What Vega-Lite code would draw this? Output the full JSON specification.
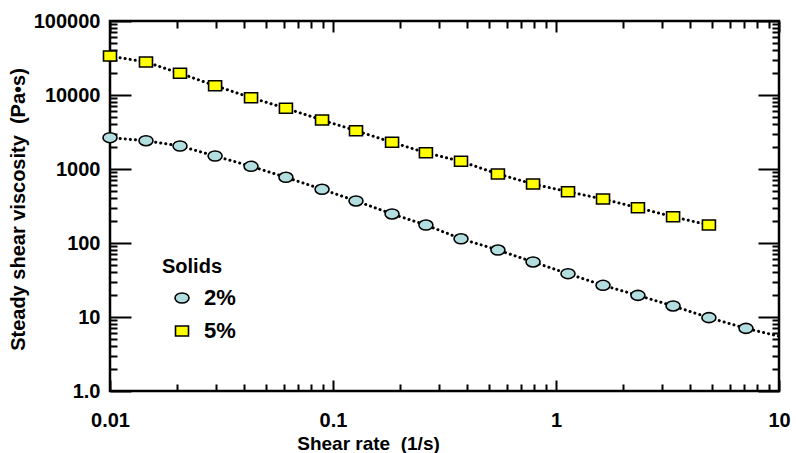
{
  "$schema": "https://vega.github.io/schema/vega-lite/v6.json",
  "width": 669,
  "height": 370,
  "autosize": {"type": "none"},
  "padding": {"left": 110, "top": 21, "right": 17, "bottom": 62},
  "background": "white",
  "datasets": {
    "visc": [
      {"rate": 0.01, "visc": 2650, "solids": "2%", "marker": true},
      {"rate": 0.0145, "visc": 2410, "solids": "2%", "marker": true},
      {"rate": 0.0206, "visc": 2046, "solids": "2%", "marker": true},
      {"rate": 0.0296, "visc": 1499, "solids": "2%", "marker": true},
      {"rate": 0.0429, "visc": 1087, "solids": "2%", "marker": true},
      {"rate": 0.0615, "visc": 773, "solids": "2%", "marker": true},
      {"rate": 0.0893, "visc": 532, "solids": "2%", "marker": true},
      {"rate": 0.1268, "visc": 370, "solids": "2%", "marker": true},
      {"rate": 0.184, "visc": 247, "solids": "2%", "marker": true},
      {"rate": 0.261, "visc": 175, "solids": "2%", "marker": true},
      {"rate": 0.375, "visc": 114, "solids": "2%", "marker": true},
      {"rate": 0.549, "visc": 80.4, "solids": "2%", "marker": true},
      {"rate": 0.789, "visc": 55.4, "solids": "2%", "marker": true},
      {"rate": 1.132, "visc": 38.5, "solids": "2%", "marker": true},
      {"rate": 1.625, "visc": 26.8, "solids": "2%", "marker": true},
      {"rate": 2.33, "visc": 19.6, "solids": "2%", "marker": true},
      {"rate": 3.35, "visc": 14.1, "solids": "2%", "marker": true},
      {"rate": 4.85, "visc": 9.8, "solids": "2%", "marker": true},
      {"rate": 7.11, "visc": 7.03, "solids": "2%", "marker": true},
      {"rate": 10, "visc": 5.5, "solids": "2%", "marker": false},
      {"rate": 0.01, "visc": 33650, "solids": "5%", "marker": true},
      {"rate": 0.0145, "visc": 27900, "solids": "5%", "marker": true},
      {"rate": 0.0206, "visc": 19640, "solids": "5%", "marker": true},
      {"rate": 0.0296, "visc": 13360, "solids": "5%", "marker": true},
      {"rate": 0.0429, "visc": 9200, "solids": "5%", "marker": true},
      {"rate": 0.0615, "visc": 6610, "solids": "5%", "marker": true},
      {"rate": 0.0893, "visc": 4590, "solids": "5%", "marker": true},
      {"rate": 0.1268, "visc": 3295, "solids": "5%", "marker": true},
      {"rate": 0.184, "visc": 2295, "solids": "5%", "marker": true},
      {"rate": 0.261, "visc": 1660, "solids": "5%", "marker": true},
      {"rate": 0.375, "visc": 1270, "solids": "5%", "marker": true},
      {"rate": 0.549, "visc": 855, "solids": "5%", "marker": true},
      {"rate": 0.789, "visc": 627, "solids": "5%", "marker": true},
      {"rate": 1.132, "visc": 493, "solids": "5%", "marker": true},
      {"rate": 1.625, "visc": 393, "solids": "5%", "marker": true},
      {"rate": 2.33, "visc": 300, "solids": "5%", "marker": true},
      {"rate": 3.35, "visc": 226, "solids": "5%", "marker": true},
      {"rate": 4.85, "visc": 175, "solids": "5%", "marker": true}
    ]
  },
  "data": {"name": "visc"},
  "layer": [
    {
      "mark": {"type": "line", "color": "black", "strokeWidth": 3, "strokeDash": [0.1, 5], "strokeCap": "round"},
      "encoding": {
        "x": {"field": "rate", "type": "quantitative",
          "scale": {"type": "log", "domain": [0.01, 10], "nice": false},
          "axis": {"orient": "bottom", "title": "Shear rate \u00a0(1/s)",
            "values": [0.01,0.02,0.03,0.04,0.05,0.06,0.07,0.08,0.09,0.1,0.2,0.3,0.4,0.5,0.6,0.7,0.8,0.9,1,2,3,4,5,6,7,8,9,10],
            "ticks": false, "domain": false,
            "grid": true, "gridColor": "black", "gridWidth": 2, "gridOpacity": 1,
            "gridDash": {"condition": {"test": "indexof([0.01,0.1,1,10], datum.value) >= 0", "value": [11, 348, 11, 1000]}, "value": [7, 356, 7, 1000]},
            "labelExpr": "indexof([0.01,0.1,1,10], datum.value) >= 0 ? datum.label : ''",
            "labelPadding": 19, "labelFlush": false, "labelOverlap": false,
            "titleX": 258, "titleY": 52, "titleBaseline": "middle", "titleAlign": "center"}},
        "y": {"field": "visc", "type": "quantitative",
          "scale": {"type": "log", "domain": [1, 100000], "nice": false},
          "axis": {"orient": "left", "title": "Steady shear viscosity \u00a0(Pa•s)",
            "values": [1,2,3,4,5,6,7,8,9,10,20,30,40,50,60,70,80,90,100,200,300,400,500,600,700,800,900,1000,2000,3000,4000,5000,6000,7000,8000,9000,10000,20000,30000,40000,50000,60000,70000,80000,90000,100000],
            "ticks": false, "domain": false,
            "grid": true, "gridColor": "black", "gridWidth": 2, "gridOpacity": 1,
            "gridDash": {"condition": {"test": "indexof([1,10,100,1000,10000,100000], datum.value) >= 0", "value": [21, 627, 21, 1000]}, "value": [7, 655, 7, 1000]},
            "labelExpr": "datum.value == 1 ? '1.0' : (indexof([10,100,1000,10000,100000], datum.value) >= 0 ? format(datum.value, 'd') : '')",
            "labelPadding": 10, "labelFlush": false, "labelOverlap": false,
            "titleX": -92, "titleY": 188, "titleBaseline": "middle", "titleAlign": "center", "titleAngle": -90}},
        "detail": {"field": "solids"},
        "order": {"field": "rate", "type": "quantitative"}
      }
    },
    {
      "transform": [{"filter": "datum.marker"}],
      "mark": {"type": "point", "filled": true, "strokeWidth": 1.6, "opacity": 1, "size": 100},
      "encoding": {
        "x": {"field": "rate", "type": "quantitative"},
        "y": {"field": "visc", "type": "quantitative"},
        "shape": {"field": "solids", "type": "nominal",
          "scale": {"domain": ["2%", "5%"], "range": ["M-1.4,0A1.4,1,0,1,0,1.4,0A1.4,1,0,1,0,-1.4,0Z", "M-1.3,-1L1.3,-1L1.3,1L-1.3,1Z"]},
          "legend": {"title": "Solids", "orient": "none", "legendX": 52, "legendY": 236}},
        "fill": {"field": "solids", "type": "nominal",
          "scale": {"domain": ["2%", "5%"], "range": ["#B3DEE0", "#FFFF00"]}},
        "stroke": {"field": "solids", "type": "nominal",
          "scale": {"domain": ["2%", "5%"], "range": ["black", "black"]}}
      }
    }
  ],
  "config": {
    "font": "Liberation Sans",
    "view": {"stroke": "black", "strokeWidth": 2.5},
    "axis": {"labelFont": "Liberation Sans", "labelFontWeight": "bold", "labelFontSize": 20, "labelColor": "black", "titleFont": "Liberation Sans", "titleFontWeight": "bold", "titleFontSize": 19, "titleColor": "black"},
    "axisY": {"titleFontSize": 20},
    "legend": {"titleFont": "Liberation Sans", "titleFontWeight": "bold", "titleFontSize": 20, "titleColor": "black", "titlePadding": 10, "labelFont": "Liberation Sans", "labelFontWeight": "bold", "labelFontSize": 22, "labelColor": "black", "symbolSize": 100, "symbolStrokeWidth": 1.6, "symbolOffset": 9, "labelOffset": 11, "rowPadding": 11, "padding": 0}
  }
}
